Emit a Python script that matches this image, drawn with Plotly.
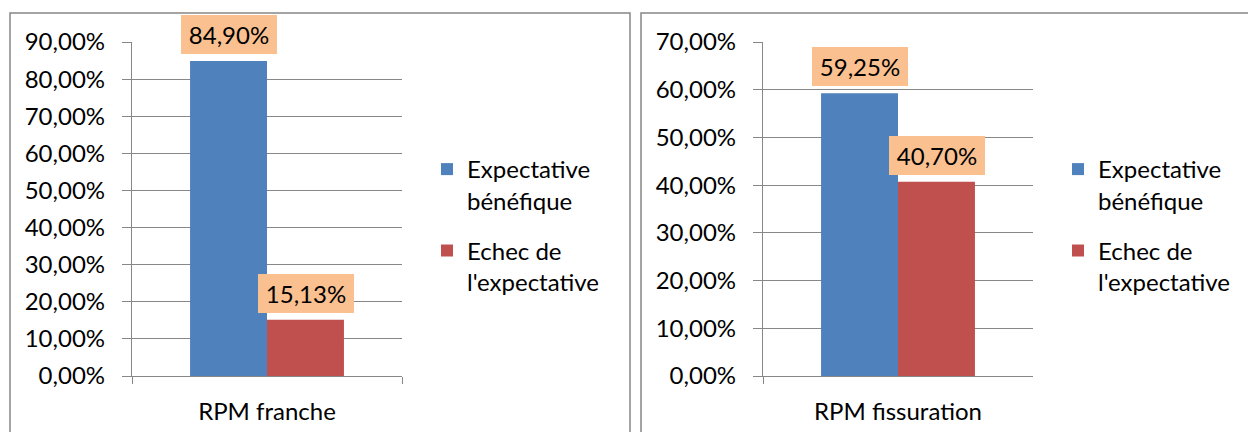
import plotly.graph_objects as go

# --- data ---
series_names = ["Expectative<br>bénéfique", "Echec de<br>l'expectative"]
left_category = ["RPM franche"]
right_category = ["RPM fissuration"]
left_values = [84.90, 15.13]
right_values = [59.25, 40.70]
left_labels = ["84,90%", "15,13%"]
right_labels = ["59,25%", "40,70%"]
left_ticks = [0, 10, 20, 30, 40, 50, 60, 70, 80, 90]
left_ticktext = ["0,00%", "10,00%", "20,00%", "30,00%", "40,00%",
                 "50,00%", "60,00%", "70,00%", "80,00%", "90,00%"]
right_ticks = [0, 10, 20, 30, 40, 50, 60, 70]
right_ticktext = ["0,00%", "10,00%", "20,00%", "30,00%",
                  "40,00%", "50,00%", "60,00%", "70,00%"]

colors = ["#4F81BD", "#C0504D"]
label_bg = "#FAC090"
grid = "#878787"
W, H = 1248, 432
FONT = "Lato"
FS = 24

fig = go.Figure()

# --- bars ---
for i in range(2):
    fig.add_trace(go.Bar(
        x=left_category, y=[left_values[i]],
        marker=dict(color=colors[i], line=dict(width=0)),
        name=series_names[i], legendgroup=f"l{i}", legend="legend",
        xaxis="x", yaxis="y",
    ))
for i in range(2):
    fig.add_trace(go.Bar(
        x=right_category, y=[right_values[i]],
        marker=dict(color=colors[i], line=dict(width=0)),
        name=series_names[i], legendgroup=f"r{i}", legend="legend2",
        xaxis="x2", yaxis="y2",
    ))

# --- data labels with orange boxes ---
shifts = [-38.5, 38.5]
annotations = []
for i in range(2):
    annotations.append(dict(
        x=left_category[0], y=left_values[i], xref="x", yref="y",
        text=left_labels[i], showarrow=False, xshift=shifts[i], yshift=7,
        yanchor="bottom", bgcolor=label_bg, width=96, height=39,
        borderpad=0, borderwidth=0, font=dict(family=FONT, size=FS, color="#000"),
    ))
    annotations.append(dict(
        x=right_category[0], y=right_values[i], xref="x2", yref="y2",
        text=right_labels[i], showarrow=False, xshift=shifts[i], yshift=7,
        yanchor="bottom", bgcolor=label_bg, width=96, height=39,
        borderpad=0, borderwidth=0, font=dict(family=FONT, size=FS, color="#000"),
    ))

# --- chart borders ---
shapes = [
    dict(type="rect", xref="paper", yref="paper",
         x0=10 / W, x1=630 / W, y0=-0.05, y1=1 - 13 / H,
         line=dict(color=grid, width=1.5)),
    dict(type="rect", xref="paper", yref="paper",
         x0=641 / W, x1=1.01, y0=-0.05, y1=1 - 13 / H,
         line=dict(color=grid, width=1.5)),
]

ydom = [1 - 376 / H, 1 - 42 / H]
yaxis_common = dict(
    gridcolor=grid, gridwidth=1.3, zeroline=False,
    showline=True, linecolor=grid, linewidth=1.3,
    ticks="outside", ticklen=9, tickcolor=grid, tickwidth=1.3,
    tickfont=dict(family=FONT, size=FS, color="#000"),
    ticklabelstandoff=12, tickmode="array", automargin=False,
)
xaxis_common = dict(
    showline=True, linecolor=grid, linewidth=1.3,
    ticks="outside", ticklen=7, tickcolor=grid, tickwidth=1.3,
    tickson="boundaries", showgrid=False, automargin=False,
    tickfont=dict(family=FONT, size=FS, color="#000"),
    ticklabelstandoff=14,
)
legend_common = dict(
    font=dict(family=FONT, size=FS, color="#000"),
    valign="top", tracegroupgap=16, yanchor="middle", y=0.478,
    xanchor="left", bgcolor="rgba(0,0,0,0)",
)

fig.update_layout(
    width=W, height=H,
    margin=dict(l=0, r=0, t=0, b=0, autoexpand=False),
    paper_bgcolor="white", plot_bgcolor="white",
    barmode="group", bargap=0.43, bargroupgap=0,
    xaxis=dict(domain=[132 / W, 402 / W], anchor="y", **xaxis_common),
    yaxis=dict(domain=ydom, anchor="x", range=[0, 90],
               tickvals=left_ticks, ticktext=left_ticktext, **yaxis_common),
    xaxis2=dict(domain=[763 / W, 1033 / W], anchor="y2", **xaxis_common),
    yaxis2=dict(domain=ydom, anchor="x2", range=[0, 70],
                tickvals=right_ticks, ticktext=right_ticktext, **yaxis_common),
    legend=dict(x=427 / W, **legend_common),
    legend2=dict(x=1058 / W, **legend_common),
    annotations=annotations,
    shapes=shapes,
)

fig.write_html("out.html", config={"displayModeBar": False},
               post_script="document.body.style.margin='0';document.body.style.overflow='hidden';")
